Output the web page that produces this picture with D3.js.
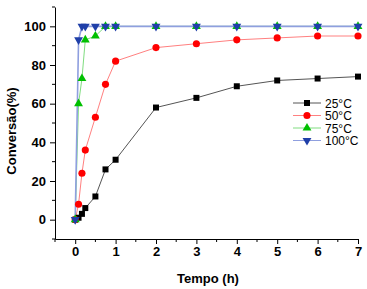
<!DOCTYPE html>
<html>
<head>
<meta charset="utf-8">
<script src="https://cdn.jsdelivr.net/npm/d3@7"></script>
<style>
  body { margin: 0; background: #fff; }
  svg { display: block; font-family: "Liberation Sans", Arial, sans-serif; }
</style>
</head>
<body>
<svg id="chart" width="367" height="289"></svg>
<script>
const tempo = [0, 0.083, 0.167, 0.25, 0.5, 0.75, 1, 2, 3, 4, 5, 6, 7]
const conv25 = [0, 1, 3, 6, 12, 26, 31, 58, 63, 69, 72, 73, 74]
const conv50 = [0, 8, 24, 36, 53, 70, 82, 89, 91, 93, 94, 95, 95]
const conv75 = [0, 60, 73, 93, 95, 100, 100, 100, 100, 100, 100, 100, 100]
const conv100 = [0, 93, 100, 100, 100, 100, 100, 100, 100, 100, 100, 100, 100]
const seriesNames = ["25°C", "50°C", "75°C", "100°C"]
const xTicks = [0, 1, 2, 3, 4, 5, 6, 7]
const yTicks = [0, 20, 40, 60, 80, 100]

const svg = d3.select("#chart")
const width = 367, height = 289
const margin = {top: 7, right: 9, bottom: 50, left: 55}

let xScale = d3.scaleLinear()
    .domain([-0.5, 7])
    .range([margin.left, width - margin.right])
let yScale = d3.scaleLinear()
    .domain([-10, 110])
    .range([height - margin.bottom, margin.top])

const styles = [
    {line: "#555555", fill: "#000000", sym: d3.symbolSquare, size: 36, rot: 0},
    {line: "#ff8080", fill: "#ff0000", sym: d3.symbolCircle, size: 40, rot: 0},
    {line: "#80dd80", fill: "#00c000", sym: d3.symbolTriangle, size: 34, rot: 0},
    {line: "#8f9fdf", fill: "#1f3fa8", sym: d3.symbolTriangle, size: 34, rot: 180}
]
const allSeries = [conv25, conv50, conv75, conv100]

// axes
let xAxis = g => g
    .attr("transform", `translate(0,${height - margin.bottom})`)
    .call(d3.axisBottom(xScale).tickValues(xTicks).tickSize(5).tickSizeOuter(0).tickPadding(3))
    .call(g => g.selectAll("text").attr("font-size", 13).attr("font-weight", "bold").attr("fill", "#000"))
let yAxis = g => g
    .attr("transform", `translate(${margin.left},0)`)
    .call(d3.axisLeft(yScale).tickValues(yTicks).tickSize(5).tickSizeOuter(0).tickPadding(4))
    .call(g => g.selectAll("text").attr("font-size", 13).attr("font-weight", "bold").attr("fill", "#000"))

svg.append("g").call(xAxis)
svg.append("g").call(yAxis)

// minor ticks
const xMinor = d3.range(-0.5, 7.01, 0.5).filter(v => !xTicks.includes(v))
svg.append("g").selectAll("line").data(xMinor).join("line")
    .attr("x1", d => xScale(d)).attr("x2", d => xScale(d))
    .attr("y1", height - margin.bottom).attr("y2", height - margin.bottom + 3)
    .attr("stroke", "#000")
const yMinor = d3.range(-10, 111, 10).filter(v => !yTicks.includes(v))
svg.append("g").selectAll("line").data(yMinor).join("line")
    .attr("x1", margin.left - 3).attr("x2", margin.left)
    .attr("y1", d => yScale(d)).attr("y2", d => yScale(d))
    .attr("stroke", "#000")

let line = d3.line()
    .x((d, i) => xScale(tempo[i]))
    .y(d => yScale(d))

allSeries.forEach((s, k) => {
    const st = styles[k]
    svg.append("path")
        .datum(s)
        .attr("fill", "none")
        .attr("stroke", st.line)
        .attr("stroke-width", k == 3 ? 1.6 : 1)
        .attr("d", line)
})
allSeries.forEach((s, k) => {
    const st = styles[k]
    const sym = d3.symbol().type(st.sym).size(st.size)
    svg.append("g").selectAll("path")
        .data(s)
        .join("path")
        .attr("d", sym)
        .attr("fill", st.fill)
        .attr("transform", (d, i) => `translate(${xScale(tempo[i])},${yScale(d)}) rotate(${st.rot})`)
})

// legend
const lg = svg.append("g").attr("transform", "translate(293,103)")
seriesNames.forEach((name, k) => {
    const st = styles[k]
    const row = lg.append("g").attr("transform", `translate(0,${k * 12.5})`)
    row.append("line").attr("x1", 0).attr("x2", 28).attr("stroke", st.line).attr("stroke-width", 1)
    row.append("path").attr("d", d3.symbol().type(st.sym).size(st.size))
        .attr("fill", st.fill).attr("transform", `translate(14,0) rotate(${st.rot})`)
    row.append("text").attr("x", 32).attr("y", 4.5).attr("font-size", 12).text(name)
})

// titles
svg.append("text")
    .attr("x", 208).attr("y", 283)
    .attr("text-anchor", "middle").attr("font-size", 13).attr("font-weight", "bold")
    .text("Tempo (h)")
svg.append("text")
    .attr("transform", "translate(16,131) rotate(-90)")
    .attr("text-anchor", "middle").attr("font-size", 13).attr("font-weight", "bold")
    .text("Conversão(%)")
</script>
</body>
</html>
